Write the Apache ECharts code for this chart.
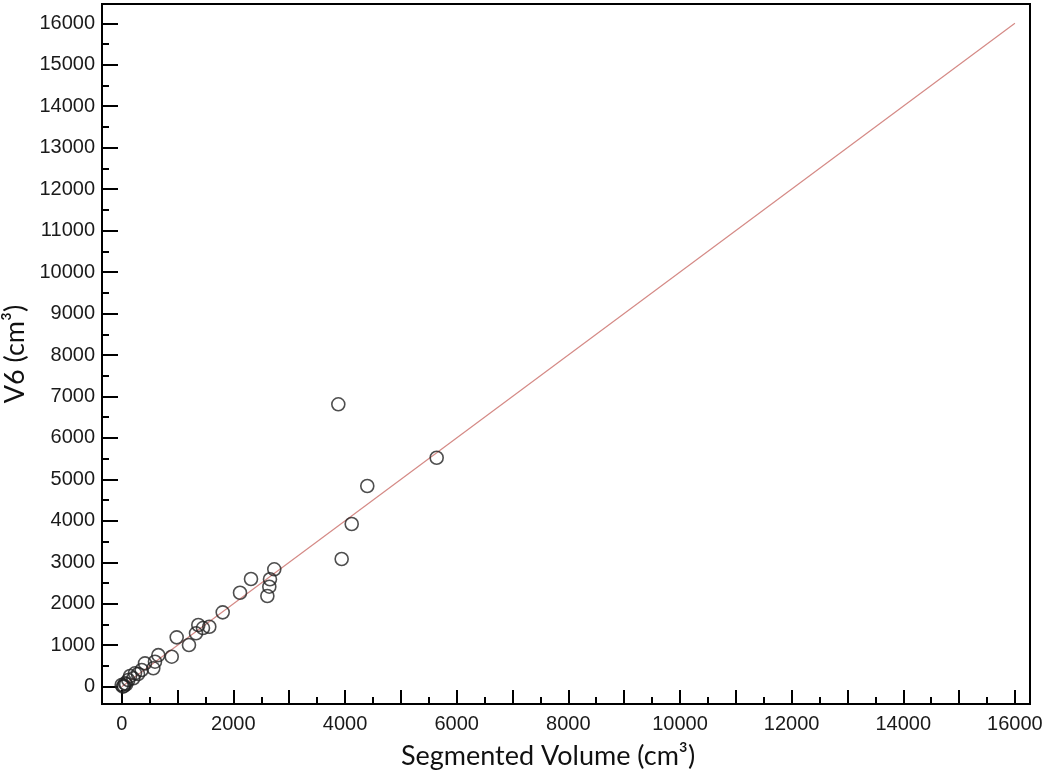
<!DOCTYPE html>
<html>
<head>
<meta charset="utf-8">
<script src="https://cdn.jsdelivr.net/npm/echarts@6/dist/echarts.min.js"></script>
<style>html,body{margin:0;padding:0;background:#fff}#c{width:1050px;height:781px}</style>
</head>
<body>
<div id="c"></div>
<script>
// Data
const segmentedVolume = [2733, 2316, 2656, 2644, 2609, 2119, 1809, 1569, 1372, 1456, 1331, 985, 1205, 656, 896, 596, 417, 566, 358, 238, 208, 118, 59, 0, 23, 292, 150, 40, 80, 3880, 5642, 4399, 4120, 3940];
const v6Volume        = [2832, 2598, 2591, 2412, 2188, 2267, 1794, 1447, 1488, 1415, 1288, 1191, 1006, 761, 724, 603, 564, 444, 403, 323, 203, 162, 82, 41, 0, 306, 260, 20, 60, 6811, 5523, 4841, 3924, 3080];
const identityLine    = [[0, 0], [16000, 16000]];
const xMajorTicks = [0,1000,2000,3000,4000,5000,6000,7000,8000,9000,10000,11000,12000,13000,14000,15000,16000];
const xMinorTicks = [500,1500,2500,3500,4500,5500,6500,7500,8500,9500,10500,11500,12500,13500,14500,15500];
const xTickLabels = [0,2000,4000,6000,8000,10000,12000,14000,16000];
const yMajorTicks = [0,1000,2000,3000,4000,5000,6000,7000,8000,9000,10000,11000,12000,13000,14000,15000,16000];
const yMinorTicks = [500,1500,2500,3500,4500,5500,6500,7500,8500,9500,10500,11500,12500,13500,14500,15500];
const yTickLabels = [0,1000,2000,3000,4000,5000,6000,7000,8000,9000,10000,11000,12000,13000,14000,15000,16000];

const X_MIN = -353, X_MAX = 16270, Y_MIN = -417, Y_MAX = 16466;
const labelFont = {fontFamily: 'Liberation Sans', fontSize: 20, color: '#1a1a1a', formatter: v => String(v)};
const titleFont = {fontFamily: 'Lato', fontSize: 27, color: '#111'};

const data = segmentedVolume.map((x, i) => [x, v6Volume[i]]);

const chart = echarts.init(document.getElementById('c'));
chart.setOption({
  animation: false,
  backgroundColor: '#fff',
  grid: {left: 102, right: 20, top: 4, bottom: 77, show: true, borderColor: '#000', borderWidth: 2, containLabel: false, outerBoundsMode: 'none'},
  xAxis: [
    {
      type: 'value', min: X_MIN, max: X_MAX, position: 'bottom',
      name: 'Segmented Volume (cm³)', nameLocation: 'middle', nameGap: 39,
      nameTextStyle: Object.assign({padding: [0, 36, 0, 0]}, titleFont),
      axisLine: {show: true, onZero: false, lineStyle: {color: '#000', width: 2}},
      axisTick: {show: true, inside: true, length: 14, customValues: xMajorTicks, lineStyle: {color: '#000', width: 2}},
      axisLabel: Object.assign({show: true, margin: 10, customValues: xTickLabels}, labelFont),
      splitLine: {show: false}
    },
    {
      type: 'value', min: X_MIN, max: X_MAX, position: 'bottom',
      axisLine: {show: false, onZero: false},
      axisTick: {show: true, inside: true, length: 7, customValues: xMinorTicks, lineStyle: {color: '#000', width: 2}},
      axisLabel: {show: false},
      splitLine: {show: false}
    }
  ],
  yAxis: [
    {
      type: 'value', min: Y_MIN, max: Y_MAX, position: 'left',
      name: 'V6 (cm³)', nameLocation: 'middle', nameGap: 60,
      nameTextStyle: titleFont,
      axisLine: {show: true, onZero: false, lineStyle: {color: '#000', width: 2}},
      axisTick: {show: true, inside: true, length: 16, customValues: yMajorTicks, lineStyle: {color: '#000', width: 2}},
      axisLabel: Object.assign({show: true, margin: 7, customValues: yTickLabels}, labelFont),
      splitLine: {show: false}
    },
    {
      type: 'value', min: Y_MIN, max: Y_MAX, position: 'left',
      axisLine: {show: false, onZero: false},
      axisTick: {show: true, inside: true, length: 7, customValues: yMinorTicks, lineStyle: {color: '#000', width: 2}},
      axisLabel: {show: false},
      splitLine: {show: false}
    }
  ],
  series: [
    {
      type: 'line', data: identityLine, xAxisIndex: 0, yAxisIndex: 0,
      symbol: 'none', silent: true,
      lineStyle: {color: '#d58a86', width: 1.2}, z: 1
    },
    {
      type: 'scatter', data: data, xAxisIndex: 0, yAxisIndex: 0,
      symbol: 'circle', symbolSize: 13,
      itemStyle: {color: 'rgba(0,0,0,0)', borderColor: '#222', borderWidth: 1.6}, z: 2
    }
  ]
});
</script>
</body>
</html>
